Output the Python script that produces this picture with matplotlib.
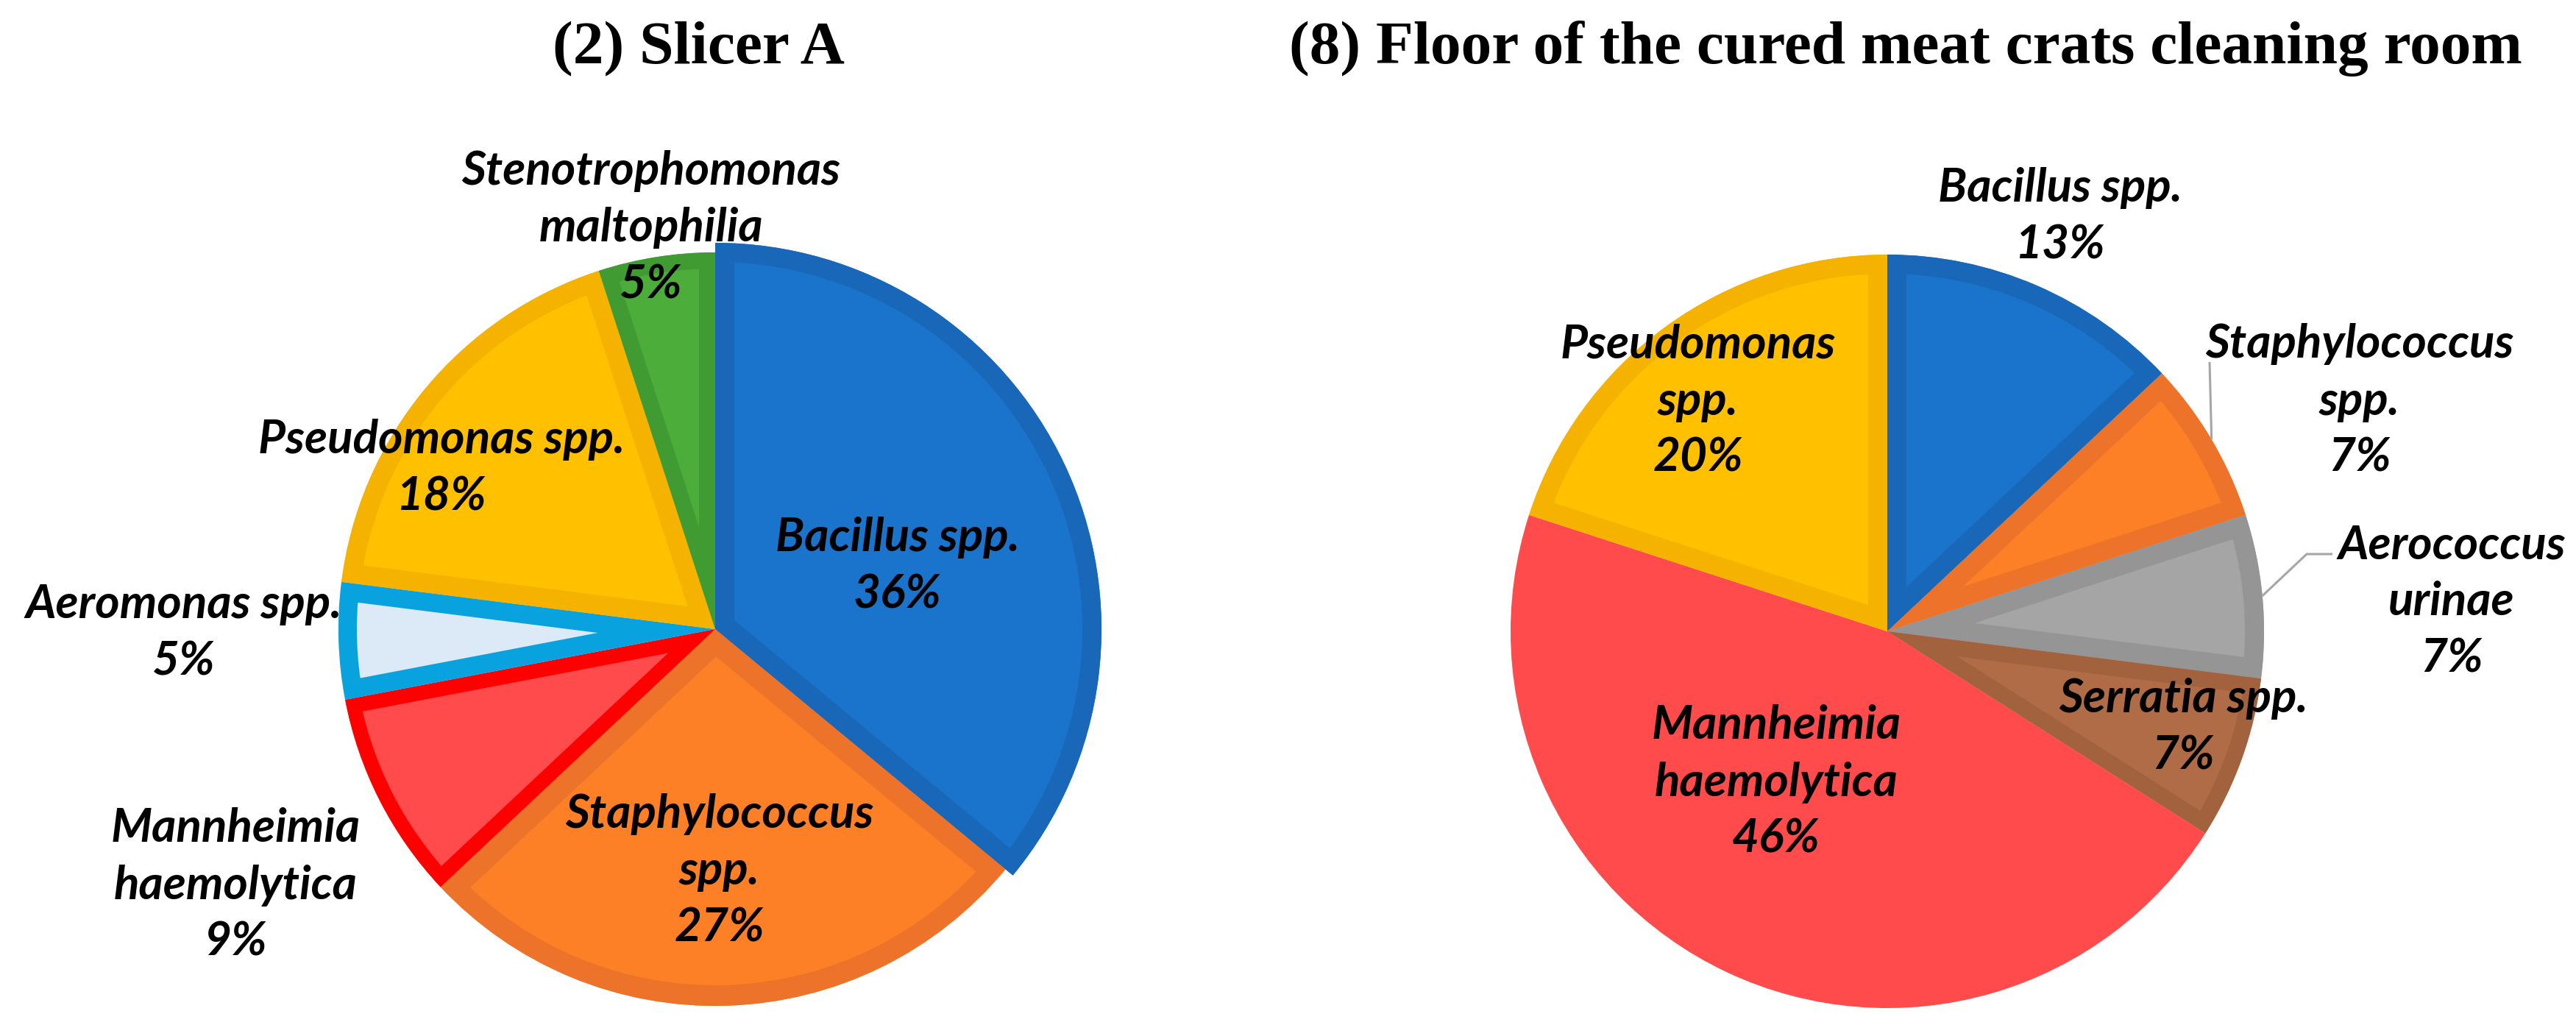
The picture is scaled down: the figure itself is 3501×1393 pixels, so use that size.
"""
Two pie charts: bacterial isolates from (2) Slicer A and
(8) Floor of the cured meat crats cleaning room.
"""

import numpy as np
import matplotlib
matplotlib.use("Agg")
import matplotlib.pyplot as plt
from matplotlib.patches import Wedge

W, H = 3501, 1393
DPI = 100

# ---------------------------------------------------------------------------
# (2) Slicer A
# ---------------------------------------------------------------------------
left_title = "(2) Slicer A"
left_names = ["Bacillus spp.", "Staphylococcus spp.", "Mannheimia haemolytica",
              "Aeromonas spp.", "Pseudomonas spp.", "Stenotrophomonas maltophilia"]
left_pct = [36, 27, 9, 5, 18, 5]
left_labels = ["Bacillus spp.\n36%", "Staphylococcus\nspp.\n27%",
               "Mannheimia\nhaemolytica\n9%", "Aeromonas spp.\n5%",
               "Pseudomonas spp.\n18%", "Stenotrophomonas\nmaltophilia\n5%"]
left_fill = ["#1B74CB", "#FD7F26", "#FF4B4B", "#DCE9F6", "#FFC000", "#4DAD3B"]
left_edge = ["#1967B8", "#EC7329", "#FF0000", "#08A3DF", "#F5B300", "#409C32"]

# ---------------------------------------------------------------------------
# (8) Floor of the cured meat crats cleaning room
# ---------------------------------------------------------------------------
right_title = "(8) Floor of the cured meat crats cleaning room"
right_names = ["Bacillus spp.", "Staphylococcus spp.", "Aerococcus urinae",
               "Serratia spp.", "Mannheimia haemolytica", "Pseudomonas spp."]
right_pct = [13, 7, 7, 7, 46, 20]
right_labels = ["Bacillus spp.\n13%", "Staphylococcus\nspp.\n7%",
                "Aerococcus\nurinae\n7%", "Serratia spp.\n7%",
                "Mannheimia\nhaemolytica\n46%", "Pseudomonas\nspp.\n20%"]
right_fill = ["#1B74CB", "#FD7F26", "#A5A5A5", "#B06C47", "#FF4B4B", "#FFC000"]
right_edge = ["#1967B8", "#EC7329", "#959595", "#A3623E", "#FF4B4B", "#F5B300"]

# layout (image pixels, y measured from top)
LEFT_CENTER, LEFT_R = (972, 855), 512
RIGHT_CENTER, RIGHT_R = (2565, 858), 512
left_explode = [0, 0, 0, 0.02, 0, 0]
left_radius_fix = {0: 525}            # Bacillus slice drawn a bit larger
left_border = [26, 28, 20, 25, 26, 22]
right_border = [26, 26, 26, 22, 0, 26]
left_label_xy = [(1220, 769), (978, 1184), (320, 1203), (250, 860),
                 (600, 636), (885, 310)]
right_label_xy = [(2800, 294), (3207, 545), (3332, 818), (2967, 988),
                  (2414, 1063), (2308, 545)]
# leader lines on the right pie: slice index -> knee points near the label
right_leaders = {1: [(3003, 492)], 2: [(3135, 753), (3170, 753)]}

LABEL_FONT = dict(family="Lato", style="italic", weight="bold", size=46)
TITLE_FONT = dict(family="Liberation Serif", weight="bold", size=60)


def flip(xy):
    return xy[0], H - xy[1]


def draw_pie(ax, pct, fill, edge, border, center, radius, explode=None,
             radius_fix=None):
    wedges, _ = ax.pie(pct, colors=fill, startangle=90, counterclock=False,
                       center=flip(center), radius=radius, explode=explode,
                       wedgeprops=dict(linewidth=0))
    for i, w in enumerate(wedges):
        if radius_fix and i in radius_fix:
            w.set_radius(radius_fix[i])
        if border[i] <= 0:
            continue
        # border drawn inside the slice: double-width stroke clipped to slice
        b = Wedge(w.center, w.r, w.theta1, w.theta2, fill=False,
                  edgecolor=edge[i], linewidth=2 * border[i] * 72 / DPI,
                  joinstyle="miter")
        ax.add_patch(b)
        b.set_clip_path(w)
    return wedges


def draw_labels(ax, labels, xy):
    for text, p in zip(labels, xy):
        ax.text(*flip(p), text, ha="center", va="center", linespacing=1.43,
                color="black", **LABEL_FONT)


fig = plt.figure(figsize=(W / DPI, H / DPI), dpi=DPI)
ax = fig.add_axes([0, 0, 1, 1])

draw_pie(ax, left_pct, left_fill, left_edge, left_border, LEFT_CENTER, LEFT_R,
         explode=left_explode, radius_fix=left_radius_fix)
rw = draw_pie(ax, right_pct, right_fill, right_edge, right_border,
              RIGHT_CENTER, RIGHT_R)

draw_labels(ax, left_labels, left_label_xy)
draw_labels(ax, right_labels, right_label_xy)

# leader lines from the slice rim to the outside labels
for i, knees in right_leaders.items():
    w = rw[i]
    mid = np.deg2rad((w.theta1 + w.theta2) / 2)
    x0 = w.center[0] + w.r * np.cos(mid)
    y0 = w.center[1] + w.r * np.sin(mid)
    xs = [x0] + [k[0] for k in knees]
    ys = [y0] + [H - k[1] for k in knees]
    ax.plot(xs, ys, color="#A6A6A6", lw=2.2, solid_capstyle="butt", zorder=3)

ax.text(949, H - 86, left_title, ha="center", va="baseline", **TITLE_FONT)
ax.text(2590, H - 86, right_title, ha="center", va="baseline", **TITLE_FONT)

ax.set_xlim(0, W)
ax.set_ylim(0, H)
ax.set_aspect("auto")
ax.axis("off")

fig.savefig("out.png", dpi=DPI, facecolor="white")
